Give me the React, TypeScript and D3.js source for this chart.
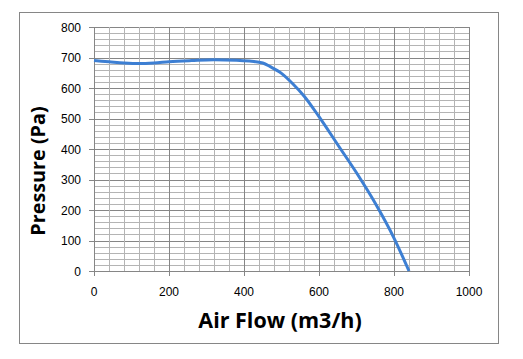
import React from "react";
import * as d3 from "d3";

const flow = [0, 40, 80, 120, 160, 200, 260, 320, 380, 420, 450, 470, 500, 530, 560, 600, 650, 700, 750, 800, 840];
const pressure = [690, 686, 682, 680, 682, 686, 690, 693, 691, 688, 682, 670, 648, 614, 574, 506, 414, 322, 222, 108, 0];
const xTicks = [0, 200, 400, 600, 800, 1000];
const yTicks = [0, 100, 200, 300, 400, 500, 600, 700, 800];
const xTitle = "Air Flow (m3/h)";
const yTitle = "Pressure (Pa)";

const W = 523;
const H = 359;
const left = 94, right = 469, top = 27, bottom = 271;

export default function App() {
  const x = d3.scaleLinear().domain([0, 1000]).range([left, right]);
  const y = d3.scaleLinear().domain([0, 800]).range([bottom, top]);
  const xMinor = d3.range(0, 1001, 40);
  const yMinor = d3.range(0, 801, 20);
  const line = d3
    .line<number>()
    .x((_, i) => x(flow[i]))
    .y((d) => y(d))
    .curve(d3.curveMonotoneX);
  const tickFont = "'Liberation Sans', Arial, sans-serif";
  const titleFont = "'Open Sans', sans-serif";
  return (
    <div style={{ position: "absolute", left: 0, top: 0 }}>
      <svg width={W} height={H} style={{ display: "block", background: "#fff" }}>
        <rect x={19.5} y={12.5} width={479} height={331} fill="#fff" stroke="#868686" strokeWidth={1} />
        {yMinor.map((v) => (
          <line key={"yh" + v} x1={left} x2={right} y1={Math.round(y(v)) + 0.5} y2={Math.round(y(v)) + 0.5}
            stroke={v % 100 === 0 ? "#868686" : "#b4b4b4"} strokeWidth={1} />
        ))}
        {xMinor.map((v) => (
          <line key={"xv" + v} y1={top} y2={bottom} x1={Math.round(x(v)) + 0.5} x2={Math.round(x(v)) + 0.5}
            stroke={v % 200 === 0 ? "#868686" : "#b4b4b4"} strokeWidth={1} />
        ))}
        {yMinor.filter((v) => v % 100 === 0).map((v) => (
          <line key={"yt" + v} x1={left - 5} x2={left} y1={Math.round(y(v)) + 0.5} y2={Math.round(y(v)) + 0.5} stroke="#868686" />
        ))}
        {xTicks.map((v) => (
          <line key={"xt" + v} x1={Math.round(x(v)) + 0.5} x2={Math.round(x(v)) + 0.5} y1={bottom} y2={bottom + 5} stroke="#868686" />
        ))}
        <line x1={left + 0.5} x2={left + 0.5} y1={top} y2={bottom + 0.5} stroke="#868686" />
        <line x1={left} x2={right + 0.5} y1={bottom + 0.5} y2={bottom + 0.5} stroke="#868686" />
        <path d={line(pressure) || ""} fill="none" stroke="#3d7fd3" strokeWidth={3} strokeLinejoin="round" />
        {yTicks.map((v) => (
          <text key={"yl" + v} x={81} y={y(v) + 4.5} textAnchor="end" fontFamily={tickFont} fontSize={12} fill="#000">
            {v}
          </text>
        ))}
        {xTicks.map((v) => (
          <text key={"xl" + v} x={x(v)} y={296} textAnchor="middle" fontFamily={tickFont} fontSize={12} fill="#000">
            {v}
          </text>
        ))}
        <text x={280} y={328} textAnchor="middle" fontFamily={titleFont} fontWeight="bold" fontSize={21.5} fill="#000">
          {xTitle}
        </text>
        <text transform={`translate(45,171) rotate(-90)`} textAnchor="middle" fontFamily={titleFont} fontWeight="bold" fontSize={19.8} fill="#000">
          {yTitle}
        </text>
      </svg>
    </div>
  );
}
